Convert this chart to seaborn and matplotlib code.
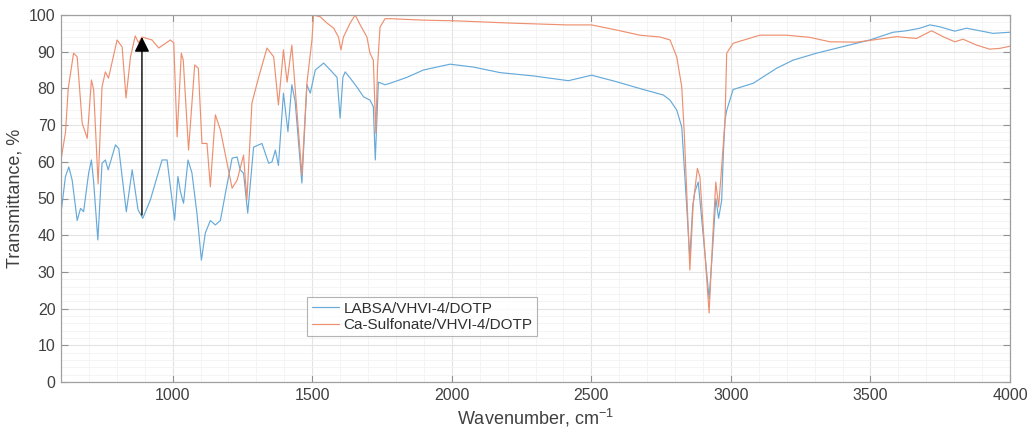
import numpy as np
import pandas as pd
import matplotlib
matplotlib.use("Agg")
import matplotlib.pyplot as plt
from matplotlib.ticker import MultipleLocator
import seaborn as sns

# ---------------- data ----------------
series_names = ["LABSA/VHVI-4/DOTP", "Ca-Sulfonate/VHVI-4/DOTP"]

labsa_wn = [600, 616, 628, 640, 658, 670, 681, 699, 709, 717, 732, 747, 759, 769, 795, 807,
            834, 855, 876, 893, 920, 962, 980, 1007, 1019, 1028, 1039, 1055, 1069, 1087, 1103,
            1117, 1135, 1153, 1171, 1189, 1213, 1231, 1242, 1254, 1269, 1290, 1320, 1344, 1356,
            1368, 1379, 1397, 1413, 1427, 1439, 1463, 1481, 1493, 1511, 1541, 1565, 1589, 1600,
            1610, 1618, 1636, 1660, 1684, 1707, 1719, 1726, 1737, 1761, 1779, 1839, 1898, 1994,
            2078, 2173, 2292, 2418, 2501, 2591, 2686, 2758, 2782, 2806, 2824, 2841, 2853, 2863,
            2871, 2883, 2907, 2922, 2935, 2946, 2956, 2967, 2973, 2979, 2985, 3008, 3080, 3164,
            3223, 3307, 3402, 3498, 3581, 3629, 3677, 3713, 3748, 3802, 3844, 3892, 3939, 4000]
labsa_t = [46, 56, 58.6, 55, 44, 47.3, 46.4, 56.9, 60.5, 54.5, 38.7, 59.6, 60.5, 57.8, 64.6, 63.6,
           46.4, 57.8, 46.9, 44.6, 49.6, 60.5, 60.5, 44.1, 56, 51.8, 48.7, 60.5, 57, 46, 33.2,
           40.6, 44, 42.8, 44, 51.4, 61, 61.3, 57.8, 56.9, 46, 64, 65, 59.6, 60,
           63.2, 59, 78.7, 68.2, 81, 76.4, 54.2, 81, 78.7, 85, 86.9, 85, 83, 71.9,
           83, 84.5, 82.8, 80.4, 77.7, 76.8, 75, 60.5, 81.7, 81, 81.4, 83, 85, 86.6,
           85.8, 84.3, 83.4, 82.1, 83.6, 81.8, 79.7, 78.2, 76.8, 74.1, 69.5, 48.7, 33.7, 47.7,
           51.8, 54.5, 35, 22.7, 36.8, 50, 44.6, 49.5, 62.3, 71.3, 74, 79.7, 81.4, 85.5,
           87.7, 89.6, 91.4, 93.2, 95.3, 95.7, 96.4, 97.3, 96.8, 95.6, 96.4, 95.7, 95, 95.3]

casulf_wn = [600, 616, 626, 645, 658, 676, 694, 709, 717, 733, 747, 759, 770, 801, 819, 833,
             849, 866, 878, 890, 926, 950, 992, 1004, 1016, 1031, 1038, 1057, 1079, 1092, 1105,
             1123, 1135, 1153, 1171, 1213, 1231, 1254, 1266, 1284, 1308, 1338, 1362, 1379, 1397,
             1410, 1427, 1463, 1481, 1499, 1505, 1529, 1553, 1577, 1594, 1603, 1612, 1636, 1654,
             1672, 1696, 1707, 1719, 1728, 1734, 1743, 1761, 1779, 1898, 2018, 2209, 2412, 2501,
             2591, 2674, 2746, 2782, 2806, 2824, 2833, 2841, 2853, 2865, 2880, 2889, 2907, 2922,
             2935, 2946, 2956, 2967, 2979, 2985, 3008, 3104, 3200, 3283, 3355, 3450, 3510, 3593,
             3665, 3719, 3760, 3802, 3832, 3880, 3927, 3963, 4000]
casulf_t = [60.5, 68, 80, 89.6, 88.6, 70.5, 66.4, 82.3, 79.6, 54, 80.4, 84.5, 82.8, 93.2, 91.3, 77.4,
            88.6, 94.3, 92.4, 94, 93.2, 91, 93.2, 92.4, 66.8, 89.6, 87.7, 63.2, 86.4, 85.5, 65,
            65, 53.2, 72.8, 68.7, 52.8, 55, 61.8, 49.6, 76, 83, 91, 88.6, 75.5, 90.5,
            81.7, 91.8, 56.4, 81.4, 93.2, 100, 99.5, 97.8, 96.4, 94, 90.5, 94, 97.8, 100,
            97.3, 94, 89.6, 87.7, 67.8, 85.8, 96.7, 99, 99, 98.6, 98.4, 97.8, 97.3, 97.3,
            95.9, 94.5, 94, 93.2, 88.6, 80.4, 67.8, 53.2, 30.5, 48.6, 58.2, 55.9, 35, 18.8,
            39.5, 54.5, 47.7, 58.6, 71.3, 89.6, 92.3, 94.5, 94.5, 93.9, 92.7, 92.6, 93.2, 94.1,
            93.6, 95.7, 94.1, 92.7, 93.4, 91.8, 90.7, 90.9, 91.5]

x_ticks = [1000, 1500, 2000, 2500, 3000, 3500, 4000]
y_ticks = [0, 10, 20, 30, 40, 50, 60, 70, 80, 90, 100]

# arrow annotation (wavenumber, from T, to T)
arrow_wn = 890
arrow_from_t = 45.5
arrow_to_t = 94.0

# ---------------- styling ----------------
sns.set_style("white")
plt.rcParams["font.family"] = ["Liberation Sans", "DejaVu Sans"]
plt.rcParams["mathtext.default"] = "regular"

colors = {series_names[0]: "#66AADA", series_names[1]: "#EE9070"}

df = pd.concat([
    pd.DataFrame({"wn": labsa_wn, "T": labsa_t, "series": series_names[0]}),
    pd.DataFrame({"wn": casulf_wn, "T": casulf_t, "series": series_names[1]}),
], ignore_index=True)

fig = plt.figure(figsize=(10.30, 4.37), dpi=100)
ax = fig.add_axes([61 / 1030, (437 - 382) / 437, (1010 - 61) / 1030, (382 - 15) / 437])

sns.lineplot(data=df, x="wn", y="T", hue="series", hue_order=series_names,
             palette=colors, estimator=None, sort=True, linewidth=0.85, ax=ax)

ax.set_xlim(600, 4000)
ax.set_ylim(0, 100)
ax.set_xticks(x_ticks)
ax.set_yticks(y_ticks)
ax.xaxis.set_minor_locator(MultipleLocator(100))
ax.yaxis.set_minor_locator(MultipleLocator(2))

ax.grid(which="major", color="#E3E3E3", linewidth=0.8)
ax.grid(which="minor", color="#F2F2F2", linewidth=0.6)
ax.set_axisbelow(True)

for s in ax.spines.values():
    s.set_color("#A0A0A0")
    s.set_linewidth(0.9)

ax.tick_params(which="major", direction="in", length=5, width=0.8, color="#909090",
               labelsize=11.5, labelcolor="#404040", top=True, right=True,
               bottom=True, left=True, labeltop=False, labelright=False, pad=4)
ax.tick_params(which="minor", length=0)

ax.set_xlabel("Wavenumber, cm$^{-1}$", fontsize=13, color="#404040", labelpad=3)
ax.set_ylabel("Transmittance, %", fontsize=13, color="#404040", labelpad=4)

ax.annotate("", xy=(arrow_wn, arrow_to_t), xytext=(arrow_wn, arrow_from_t),
            arrowprops=dict(arrowstyle="-|>,head_length=0.9,head_width=0.45",
                            color="black", lw=1.0, shrinkA=0, shrinkB=0))

leg = ax.legend(loc="upper left", bbox_to_anchor=((307 - 61) / 949, (382 - 297) / 367),
                fontsize=11, frameon=True, fancybox=False, borderpad=0.3,
                handlelength=1.8, handletextpad=0.3, labelspacing=0.15, borderaxespad=0)
leg.get_frame().set_edgecolor("#A0A0A0")
leg.get_frame().set_linewidth(0.8)
leg.set_title(None)
for t in leg.get_texts():
    t.set_color("#303030")

fig.savefig("out.png", dpi=100)
